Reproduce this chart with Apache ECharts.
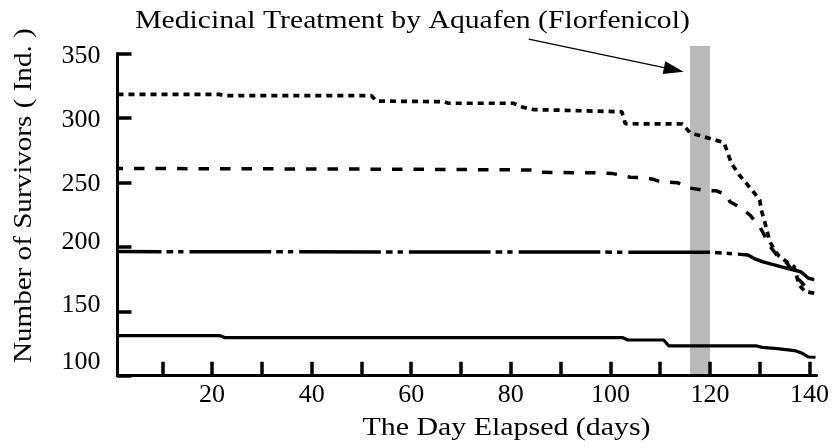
<!DOCTYPE html>
<html>
<head>
<meta charset="utf-8">
<script src="https://cdn.jsdelivr.net/npm/echarts@6/dist/echarts.min.js"></script>
<style>
html,body{margin:0;padding:0;background:#fff;}
#chart{width:835px;height:448px;}
</style>
</head>
<body>
<div id="chart"></div>
<script>
// ---- data ----
const titleText = 'Medicinal Treatment by Aquafen (Florfenicol)';
const xAxisTitle = 'The Day Elapsed (days)';
const yAxisTitle = 'Number of Survivors ( Ind. )';

const xTickValues = [10, 20, 30, 40, 50, 60, 70, 80, 90, 100, 110, 120, 130, 140];
const xLabelValues = [20, 40, 60, 80, 100, 120, 140];
const yTickValues = [100, 150, 200, 250, 300, 350];

// dotted line (top group)
const dottedValues = [
  [1, 318.3], [21.5, 318.3], [22.5, 317.3], [52, 317.3], [53, 313.1], [66.5, 312.6],
  [67.5, 311.4], [80.5, 311.4], [82, 308.7], [84.5, 306.5], [102.3, 304.8], [103, 295.5],
  [114.5, 295.3], [116, 288.5], [120.5, 283.4], [122.8, 281], [123.6, 272.6], [124.3, 264.8],
  [125.9, 255.7], [128.7, 242.8], [130, 236.3], [130.3, 228.6], [131, 219.5], [132, 204],
  [133, 197.6], [133.8, 193.1], [135.8, 187.2], [136.9, 184.6], [137.9, 170.4], [139.1, 165.2],
  [141, 164]
];
// dashed line (second group)
const dashedValues = [
  [1, 260.8], [60, 260.2], [84.2, 259.6], [85.2, 257.8], [97.5, 257.4], [100.5, 256.8],
  [102.3, 255.5], [104, 254], [107, 253.6], [108.5, 252.5], [110, 250.5], [113.5, 249.8],
  [115.3, 246], [119.3, 243.5], [121.3, 243.5], [123.4, 240.2], [124, 235], [126.4, 229.9],
  [128, 224.7], [130, 215.6], [131, 208.4], [131.6, 202.8], [133.4, 193.7], [135.5, 187.2],
  [137.5, 176], [139, 170]
];
// dash-dot line (third group)
const dashDotValues = [
  [1, 196.3], [120, 195.8], [125.4, 194.4], [127.6, 193.7], [128.8, 191.1], [130.5, 188.5],
  [134.2, 184.6], [138.2, 180.7], [139.8, 175.6], [141.2, 174.3]
];
// solid line (bottom group)
const solidValues = [
  [1, 131.1], [21.6, 131.1], [22.5, 129.6], [102.4, 129.6], [103.5, 127.7], [110.7, 127.7],
  [111.7, 123.2], [129.2, 123.2], [130.5, 122], [133.5, 121], [137, 119.5], [138.5, 117.5],
  [139.8, 114.5], [141.2, 114.3]
];
// treatment period band: [dayStart, dayEnd, valueBottom, valueTop]
const treatmentBand = [[116, 120, 100, 355.8]];
// annotation arrow: [fromDay, fromValue, toDay, toValue]
const arrowData = [[83.6, 361.2, 114.7, 335.9]];

// ---- styling ----
const FONT = '"Liberation Serif", "Times New Roman", serif';
// vertical nudge (px, + = down) of each y tick label, as drawn in the reference
const yLabelNudge = {100: -14, 150: -6, 200: -4.5, 250: 1.7, 300: 2, 350: 3};
const yLabelRich = {};
Object.keys(yLabelNudge).forEach(function (k) {
  const d = yLabelNudge[k];
  yLabelRich['v' + k] = {
    fontFamily: FONT, fontSize: 26, color: '#000',
    padding: d >= 0 ? [2 * d, 0, 0, 0] : [0, 0, -2 * d, 0]
  };
});

const chart = echarts.init(document.getElementById('chart'), null, {renderer: 'canvas'});

const option = {
  animation: false,
  backgroundColor: '#fff',
  grid: {left: 117.5, top: 53.5, width: 699, height: 322.2, outerBoundsMode: 'none', containLabel: false},
  xAxis: {
    type: 'value', min: 1, max: 141.4,
    axisLine: {show: true, lineStyle: {color: '#000', width: 3}},
    axisTick: {show: true, inside: true, length: 14, customValues: xTickValues, lineStyle: {color: '#000', width: 3.5}},
    axisLabel: {show: true, customValues: xLabelValues, margin: 6, color: '#000', fontFamily: FONT, fontSize: 26},
    splitLine: {show: false}
  },
  yAxis: {
    type: 'value', min: 100, max: 350, interval: 50,
    axisLine: {show: true, lineStyle: {color: '#000', width: 3}},
    axisTick: {show: true, inside: true, length: 14, customValues: yTickValues, lineStyle: {color: '#000', width: 3.5}},
    axisLabel: {
      show: true, customValues: yTickValues, margin: 17, color: '#000', fontFamily: FONT, fontSize: 26,
      formatter: function (v) { return '{v' + v + '|' + v + '}'; },
      rich: yLabelRich
    },
    splitLine: {show: false}
  },
  graphic: [
    {type: 'text', x: 412.5, y: 21.5, scaleX: 1.142, silent: true,
      style: {text: titleText, fontFamily: FONT, fontSize: 26, fill: '#000', align: 'center', verticalAlign: 'middle'}},
    {type: 'text', x: 506.5, y: 428.5, scaleX: 1.15, silent: true,
      style: {text: xAxisTitle, fontFamily: FONT, fontSize: 26, fill: '#000', align: 'center', verticalAlign: 'middle'}},
    {type: 'text', x: 24, y: 195.7, rotation: Math.PI / 2, scaleX: 1.12, silent: true,
      style: {text: yAxisTitle, fontFamily: FONT, fontSize: 26, fill: '#000', align: 'center', verticalAlign: 'middle'}}
  ],
  series: [
    {
      type: 'custom', name: 'band', clip: false, silent: true, z: 1,
      data: treatmentBand,
      encode: {x: [0, 1], y: [2, 3]},
      renderItem: function (params, api) {
        const p0 = api.coord([api.value(0), api.value(2)]);
        const p1 = api.coord([api.value(1), api.value(3)]);
        return {
          type: 'rect',
          shape: {x: p0[0], y: p1[1], width: p1[0] - p0[0], height: p0[1] - p1[1]},
          style: {fill: 'rgba(0,0,0,0.27)'}
        };
      }
    },
    {
      type: 'line', name: 'dotted', data: dottedValues, showSymbol: false, symbol: 'none', silent: true, z: 3,
      lineStyle: {color: '#000', width: 3.7, type: [6, 5]}
    },
    {
      type: 'line', name: 'dashed', data: dashedValues, showSymbol: false, symbol: 'none', silent: true, z: 3,
      lineStyle: {color: '#000', width: 3.5, type: [10.5, 11], dashOffset: 5}
    },
    {
      type: 'line', name: 'dashdot', data: dashDotValues, showSymbol: false, symbol: 'none', silent: true, z: 3,
      lineStyle: {color: '#000', width: 3.5, type: [81.7, 5, 6.7, 5, 5.3, 6], dashOffset: 37.7}
    },
    {
      type: 'line', name: 'solid', data: solidValues, showSymbol: false, symbol: 'none', silent: true, z: 3,
      lineStyle: {color: '#000', width: 3.2, type: 'solid'}
    },
    {
      type: 'custom', name: 'arrow', clip: false, silent: true, z: 4,
      data: arrowData,
      encode: {x: [0, 2], y: [1, 3]},
      renderItem: function (params, api) {
        const a = api.coord([api.value(0), api.value(1)]);
        const b = api.coord([api.value(2), api.value(3)]);
        const dx = b[0] - a[0], dy = b[1] - a[1];
        const len = Math.sqrt(dx * dx + dy * dy);
        const ux = dx / len, uy = dy / len;
        const headLen = 20, headHalf = 6.5;
        const base = [b[0] - ux * headLen, b[1] - uy * headLen];
        return {
          type: 'group',
          children: [
            {type: 'line', shape: {x1: a[0], y1: a[1], x2: base[0], y2: base[1]},
              style: {stroke: '#000', lineWidth: 1.2}},
            {type: 'polygon', shape: {points: [
              [b[0], b[1]],
              [base[0] - uy * headHalf, base[1] + ux * headHalf],
              [base[0] + uy * headHalf, base[1] - ux * headHalf]
            ]}, style: {fill: '#000'}}
          ]
        };
      }
    }
  ]
};
chart.setOption(option);
</script>
</body>
</html>
